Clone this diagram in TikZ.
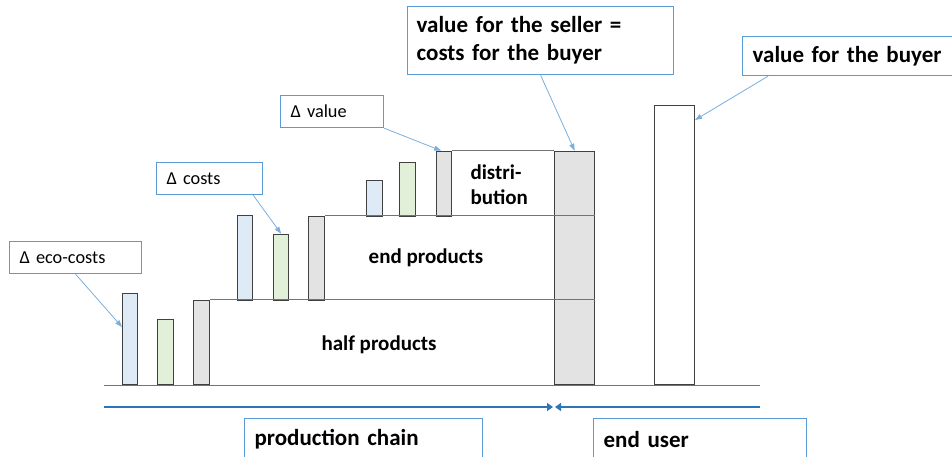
\documentclass[tikz,border=0pt]{standalone}
\usepackage{fontspec}
\setmainfont{Carlito}
\usetikzlibrary{arrows.meta}

\definecolor{ecoblue}{HTML}{DEEBF7}
\definecolor{ecogreen}{HTML}{E2F0D9}
\definecolor{ecogray}{HTML}{E4E3E3}
\definecolor{boxblue}{HTML}{5B9BD5}
\definecolor{pointblue}{HTML}{7AAEDD}
\definecolor{chainblue}{HTML}{2E75B6}

\tikzset{
  bar/.style={draw=black!75,line width=1.3pt,anchor=south west,inner sep=0pt},
  callout/.style={draw=boxblue,line width=1.2pt,fill=white,anchor=north west,
    align=left,inner xsep=10pt,inner ysep=0pt},
  pointer/.style={draw=pointblue,line width=0.8pt,-{Triangle[length=7pt,width=5pt]}},
  chain/.style={draw=chainblue,line width=2.2pt,-{Triangle[length=6pt,width=8pt]}},
  stair/.style={draw=black!55,line width=0.8pt},
  small/.style={font=\fontsize{18.3}{22}\selectfont},
  big/.style={font=\fontsize{23}{28}\selectfont\bfseries},
  mid/.style={font=\fontsize{21}{25}\selectfont\bfseries}
}

\begin{document}
\begin{tikzpicture}[x=1pt,y=-1pt]
  \useasboundingbox (0,0) rectangle (952,456);

  % ground line
  \coordinate (gl) at (104,385);
  \coordinate (gr) at (760,385);
  \draw[stair] (gl) -- (gr);

  % half products step
  \node[bar,fill=ecoblue,minimum width=15pt,minimum height=91pt] (b1) at (122,385) {};
  \node[bar,fill=ecogreen,minimum width=16pt,minimum height=65pt] (b2) at (157,385) {};
  \node[bar,fill=ecogray,minimum width=16pt,minimum height=84pt] (b3) at (193,385) {};

  % end products step
  \node[bar,fill=ecoblue,minimum width=15pt,minimum height=85pt] (b4) at (237,301) {};
  \node[bar,fill=ecogreen,minimum width=15pt,minimum height=66pt] (b5) at (273,301) {};
  \node[bar,fill=ecogray,minimum width=16pt,minimum height=84pt] (b6) at (308,301) {};

  % distribution step
  \node[bar,fill=ecoblue,minimum width=16pt,minimum height=36pt] (b7) at (366,217) {};
  \node[bar,fill=ecogreen,minimum width=16pt,minimum height=54pt] (b8) at (399,217) {};
  \node[bar,fill=ecogray,minimum width=15pt,minimum height=65pt] (b9) at (436,217) {};

  % seller and buyer columns
  \node[bar,fill=ecogray,minimum width=40pt,minimum height=233pt] (sell) at (554,385) {};
  \node[bar,fill=white,minimum width=40pt,minimum height=279pt] (buy) at (654,385) {};

  \draw[stair] (b3.north east) -- (b3.north east -| sell.east);
  \draw[stair] (b6.north east) -- (b6.north east -| sell.east);
  \draw[stair] (b9.north east) -- (sell.north west);

  \node[mid] (half) at (379,345) {half products};
  \node[mid] (endp) at (426,258) {end products};
  \node[mid,align=left,anchor=west] (dist) at (467,185) {distri-\\bution};

  % labels
  \node[callout,small,text width=112pt,minimum height=32pt] (eco) at (9,241) {Δ eco-costs};
  \node[callout,small,text width=86pt,minimum height=32pt] (cost) at (156,162) {Δ costs};
  \node[callout,small,text width=83pt,minimum height=32pt] (dval) at (280,95) {Δ value};
  \node[callout,big,inner xsep=9pt,text width=248pt,minimum height=68pt] (vsell) at (407,6)
    {value for the seller =\\costs for the buyer};
  \node[callout,big,text width=200pt,minimum height=39pt] (vbuy) at (742,36) {value for the buyer};

  \coordinate (t1) at (122,327);
  \coordinate (t2) at (695,120);
  \draw[pointer] (eco.south) -- (t1);
  \draw[pointer] ([xshift=-10pt]cost.south east) -- (b5.north);
  \draw[pointer] (dval.south east) -- ([xshift=-3pt]b9.north);
  \draw[pointer] (vsell.south) -- (sell.north);
  \draw[pointer] ([xshift=26pt]vbuy.south west) -- (t2);

  % chain arrows
  \coordinate (cl) at (104,407);
  \coordinate (cr) at (760,407);
  \draw[chain] (cl) -- ([xshift=-1pt]sell.west |- cl);
  \draw[chain] (cr) -- ([xshift=1pt]sell.west |- cr);

  \node[callout,big,text width=218pt,minimum height=42pt] (prod) at (244,418) {production chain};
  \node[callout,big,text width=193pt,minimum height=42pt] (user) at (593,418) {end user};
\end{tikzpicture}
\end{document}
